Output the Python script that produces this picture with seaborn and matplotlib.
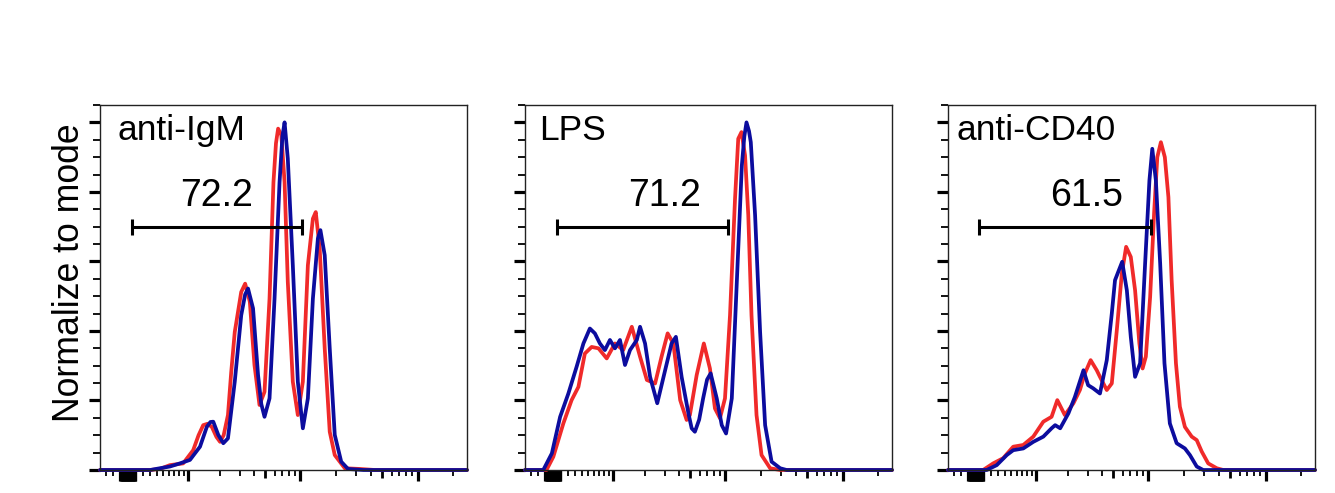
import matplotlib
matplotlib.use('Agg')
import numpy as np
import pandas as pd
import seaborn as sns
import matplotlib.pyplot as plt
from matplotlib.ticker import FixedLocator, MultipleLocator, NullFormatter

# x values are display channels (0..1024 across the biexponential axis),
# y values are % of mode
titles = ['anti-IgM', 'LPS', 'anti-CD40']
gate_pct = ['72.2', '71.2', '61.5']
gate_lo = [89, 89, 86]
gate_hi = [564, 566, 566]

igm_red_x = [0, 140, 167, 195, 232, 260, 275, 288, 300, 312, 325, 335, 345, 357, 366, 376, 394, 405, 418, 431,
             445, 459, 473, 484, 491, 497, 506, 515, 524, 538, 552, 566, 580, 594, 602, 613, 627, 641, 655, 683,
             725, 767, 1024]
igm_red_y = [0, 0, 0.3, 1.4, 1.9, 5.7, 10, 12.9, 13.3, 12.4, 9.5, 8.1, 10, 15.8, 28, 39.7, 51.2, 53.6, 48.4, 30.2,
             18.7, 22.5, 49.3, 82.8, 94, 98.2, 96.3, 82.8, 54.1, 25.4, 15.8, 25.4, 58.9, 72.3, 74.2, 63.7, 35, 11, 4.3, 0.5,
             0.3, 0, 0]
igm_blue_x = [0, 140, 167, 195, 223, 251, 279, 298, 308, 316, 330, 344, 357, 376, 394, 405, 413, 427, 441, 450,
              459, 473, 487, 501, 509, 515, 524, 538, 552, 566, 580, 594, 608, 615, 627, 641, 655, 673, 692, 735,
              1024]
igm_blue_y = [0, 0, 0.5, 1.0, 1.9, 2.9, 6.7, 12.4, 13.8, 13.9, 10.1, 7.7, 9.1, 25.4, 44.5, 50.5, 52.2, 46.5, 27.3, 19,
              15.3, 20.6, 49.3, 82.8, 96, 100, 89.6, 58.9, 25.4, 12, 20.6, 49.3, 66.6, 69, 61.8, 35, 10.1, 2.4, 0.3, 0,
              0]

lps_red_x = [0, 60, 79, 107, 130, 149, 167, 186, 205, 228, 251, 274, 298, 321, 340, 363, 381, 398, 414, 433,
             451, 460, 479, 499, 516, 530, 544, 558, 572, 586, 595, 604, 614, 623, 632, 646, 660, 684, 712, 1024]
lps_red_y = [0, 0, 3.8, 13.4, 20.1, 23.9, 33.5, 35.4, 35, 32.1, 36.4, 34.5, 41.2, 32.6, 25.9, 24.9, 32.6, 39.3, 36.4, 20.1,
             14.4, 15.8, 27.3, 36.4, 29.2, 17.7, 14.9, 20.6, 44.5, 78, 95.3, 97.2, 90.5, 73.3, 44.5, 15.8, 4.3, 0.5, 0, 0]
lps_blue_x = [0, 51, 75, 98, 121, 144, 163, 181, 195, 209, 223, 237, 251, 265, 279, 293, 312, 321, 335, 349,
              369, 391, 409, 421, 437, 456, 465, 474, 486, 497, 508, 518, 535, 549, 561, 577, 591, 605, 612, 618,
              625, 630, 642, 656, 670, 688, 712, 730, 1024]
lps_blue_y = [0, 0, 4.8, 15.3, 22, 29.7, 36.4, 40.7, 39.3, 36.4, 34.5, 37.4, 35, 37.4, 30.2, 34.5, 37.4, 41.2, 36.4, 26.8,
              19.2, 28.7, 36.4, 38.3, 26.8, 16.3, 12, 11, 14.5, 20.6, 26, 27.8, 20.6, 12.9, 10.5, 20.6, 54.1, 87.6, 96, 100,
              97.5, 94.3, 73.3, 39.7, 12.9, 2.4, 0.5, 0, 0]

cd40_red_x = [0, 98, 126, 154, 182, 210, 238, 266, 289, 305, 326, 350, 368, 382, 398, 415, 424, 443, 457, 471,
              485, 497, 510, 522, 534, 543, 552, 564, 575, 584, 594, 605, 615, 624, 636, 647, 661, 680, 694, 708,
              726, 750, 768, 1024]
cd40_red_y = [0, 0, 1.9, 3.4, 6.7, 7.2, 9.6, 13.9, 15.3, 20.1, 15.8, 19.2, 23, 27.8, 31.6, 28.7, 26.8, 23, 24.9, 40.2,
              56.5, 64.2, 61.3, 51.7, 36.4, 29.2, 32.6, 49.8, 73.8, 90, 94.3, 90, 78.5, 54.6, 30.7, 18.2, 12.4, 9.6, 8.6, 5.3,
              1.9, 0.5, 0, 0]
cd40_blue_x = [0, 108, 136, 164, 182, 210, 238, 266, 289, 299, 313, 336, 354, 378, 391, 405, 424, 443, 457, 466,
               475, 486, 499, 510, 522, 536, 550, 562, 570, 580, 592, 604, 619, 638, 661, 675, 694, 712, 1024]
cd40_blue_y = [0, 0, 1.4, 4.3, 5.7, 6.2, 8.1, 9.6, 12, 12.9, 12, 16.3, 21, 28.7, 24.4, 23.5, 22, 31.6, 45, 54.6,
               57, 59.9, 51.7, 38.3, 26.8, 30.7, 59.4, 83.3, 92.4, 83.3, 59.4, 30.7, 13.4, 7.7, 6.2, 4.3, 1, 0, 0]

red_curves = [(igm_red_x, igm_red_y), (lps_red_x, lps_red_y), (cd40_red_x, cd40_red_y)]
blue_curves = [(igm_blue_x, igm_blue_y), (lps_blue_x, lps_blue_y), (cd40_blue_x, cd40_blue_y)]

title_x = [50, 40, 25]
pct_x = [223, 287, 286]

RED = '#f02a2a'
BLUE = '#0c0c9e'


def to_channel(v):
    # biexponential-like display transform used for the tick marks
    return 78 + 142 * np.arcsinh(np.asarray(v, float) / 676.0)


major_vals = [0, 1e3, 1e4, 1e5] + [s * k * 10 for k in range(1, 11) for s in (1, -1)]
minor_vals = [s * k * 100 for k in range(2, 10) for s in (1, -1)]
minor_vals += [k * 10 ** e for e in (3, 4) for k in range(2, 10)] + [2e5]
mid_vals = [5e3, 5e4]
major_ch = [c for c in to_channel(major_vals) if 0 <= c <= 1024]
minor_ch = [c for c in to_channel(minor_vals) if 0 <= c <= 1024]
mid_ch = list(to_channel(mid_vals))

sns.set_style('ticks')
plt.rcParams['font.family'] = ['Liberation Sans', 'DejaVu Sans']
plt.rcParams['text.color'] = 'black'

fig = plt.figure(figsize=(13.35, 4.93), dpi=100)
lefts = [100, 525, 948]
for i, left in enumerate(lefts):
    ax = fig.add_axes([left / 1335, 23 / 493, 367 / 1335, 365 / 493])
    rx, ry = red_curves[i]
    bx, by = blue_curves[i]
    sns.lineplot(x=rx, y=ry, ax=ax, color=RED, lw=2.7, estimator=None, sort=False,
                 clip_on=False, solid_joinstyle='round')
    sns.lineplot(x=bx, y=by, ax=ax, color=BLUE, lw=2.7, estimator=None, sort=False,
                 clip_on=False, solid_joinstyle='round')

    ax.set_xlim(0, 1024)
    ax.set_ylim(0, 105)
    ax.set_xlabel('')
    ax.set_ylabel('')

    ax.plot([gate_lo[i], gate_hi[i]], [70, 70], color='black', lw=2.2,
            marker='|', markersize=11, mew=2.2)
    ax.text(pct_x[i], 76, gate_pct[i], fontsize=27, ha='left', va='baseline', color='black')
    ax.text(title_x[i], 94.8, titles[i], fontsize=25.5, ha='left', va='baseline', color='black')

    ax.yaxis.set_major_locator(MultipleLocator(20))
    ax.yaxis.set_minor_locator(MultipleLocator(5))
    ax.xaxis.set_major_locator(FixedLocator(major_ch))
    ax.xaxis.set_minor_locator(FixedLocator(minor_ch))
    for a in (ax.xaxis, ax.yaxis):
        a.set_major_formatter(NullFormatter())
        a.set_minor_formatter(NullFormatter())
    ax.tick_params(which='major', length=8, width=2.3, color='black', direction='out')
    ax.tick_params(which='minor', length=4, width=1.3, color='black', direction='out')
    ax.tick_params(axis='y', which='minor', length=5)

    locs = ax.xaxis.get_minorticklocs()
    for t, loc in zip(ax.xaxis.get_minor_ticks(len(locs)), locs):
        if min(abs(loc - m) for m in mid_ch) < 0.5:
            t.tick1line.set_markersize(6)
            t.tick1line.set_markeredgewidth(2.0)

    for sp in ax.spines.values():
        sp.set_visible(True)
        sp.set_linewidth(1.0)
        sp.set_color('#222222')

fig.text(70 / 1335, 1 - 273 / 493, 'Normalize to mode', rotation=90,
         fontsize=25.7, ha='center', va='center', color='black')

fig.savefig('out.png', dpi=100)
